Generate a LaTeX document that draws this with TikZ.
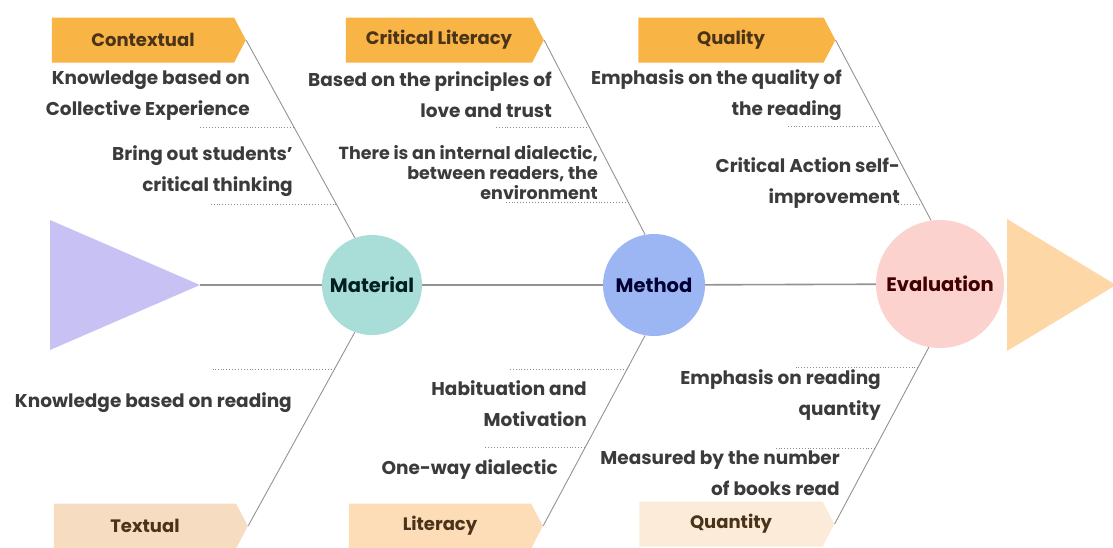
\documentclass[tikz,border=0pt]{standalone}
\usepackage{fontspec}
\setmainfont{Poppins}
\usetikzlibrary{shapes.symbols}
\definecolor{tailpurple}{HTML}{C8C2F4}
\definecolor{headpeach}{HTML}{FDD7A5}
\definecolor{matteal}{HTML}{A9DDD7}
\definecolor{metblue}{HTML}{9CB6F4}
\definecolor{evapink}{HTML}{FCD2CE}
\definecolor{tagorange}{HTML}{F8B445}
\definecolor{tagsand}{HTML}{F6DDC2}
\definecolor{tagapricot}{HTML}{FCDDB8}
\definecolor{tagcream}{HTML}{FCEBD9}
\definecolor{tagtext}{HTML}{4A3318}
\definecolor{notetext}{HTML}{3B3B3B}
\tikzset{
  bone/.style={draw=gray!85, line width=0.9},
  twig/.style={draw=gray!90, dotted, line width=0.9},
  tag/.style={signal, signal to=east, signal pointer angle=125, minimum width=194,
    minimum height=45, inner sep=0, text=tagtext, font=\bfseries\fontsize{18}{20}\selectfont},
  hub/.style={circle, inner sep=0, font=\bfseries\fontsize{19.5}{22}\selectfont},
  note/.style={anchor=east, align=right, inner sep=0, text=notetext,
    font=\bfseries\fontsize{18.5}{31}\selectfont},
}
\begin{document}
\begin{tikzpicture}[x=1pt, y=-1pt]
\useasboundingbox (0,0) rectangle (1113,547);
% tail and head of the fish
\fill[tailpurple] (50,220) -- (200,285) -- (50,350) -- cycle;
\fill[headpeach] (1007,219) -- (1116,285) -- (1007,351) -- cycle;
\coordinate (tail) at (200,285);
\node[hub, fill=matteal, minimum size=100, text=black!75!teal] (mat) at (372,285) {Material};
\node[hub, fill=metblue, minimum size=102, text=black!80!blue] (met) at (654,285) {Method};
\node[hub, fill=evapink, minimum size=128, text=black!75!red] (eva) at (940,284) {Evaluation};
\draw[bone, line width=1.6] (tail) -- (mat) (mat) -- (met) (met) -- (eva);
% category tags
\node[tag, fill=tagorange] (ctx) at (143,40) {Contextual};
\node[tag, fill=tagorange, minimum width=198] (cri) at (439,40) {Critical Literacy};
\node[tag, fill=tagorange, minimum width=197] (qua) at (731,40) {Quality};
\node[tag, fill=tagsand] (txt) at (145,526) {Textual};
\node[tag, fill=tagapricot] (lit) at (440,526) {Literacy};
\node[tag, fill=tagcream, minimum width=195] (qty) at (731,524) {Quantity};
% bones with their twigs
\draw[bone] (ctx.east) -- (mat.110) coordinate[pos=.44] (a1) coordinate[pos=.83] (a2);
\draw[bone] (cri.east) -- (met.100) coordinate[pos=.45] (b1) coordinate[pos=.835] (b2);
\draw[bone] (qua.east) -- (eva.98) coordinate[pos=.48] (c1) coordinate[pos=.91] (c2);
\draw[bone] (txt.east) -- (mat.250) coordinate[pos=.81] (d1);
\draw[bone] (lit.east) -- (met.260) coordinate[pos=.82] (e1) coordinate[pos=.41] (e2);
\draw[bone] (qty.east) -- (eva.260) coordinate[pos=.887] (f1) coordinate[pos=.43] (f2);
\draw[twig] (a1) -- ++(-94,0) (a2) -- ++(-127,0);
\draw[twig] (b1) -- ++(-94,0) (b2) -- ++(-122,0);
\draw[twig] (c1) -- ++(-94,0) (c2) -- ++(-24,0);
\draw[twig] (d1) -- ++(-122,0);
\draw[twig] (e1) -- ++(-118,0) (e2) -- ++(-101,0);
\draw[twig] (f1) -- ++(-122,0) (f2) -- ++(-99,0);
% notes
\node[note] (n1) at (250,96) {Knowledge based on\\Collective Experience};
\node[note] (n2) at (293,171) {Bring out students'\\critical thinking};
\node[note] (n3) at (552,95) {Based on the principles of\\love and trust};
\node[note, font=\bfseries\fontsize{17.5}{20}\selectfont] (n4) at (598,173) {There is an internal dialectic,\\between readers, the\\environment};
\node[note] (n5) at (842,95) {Emphasis on the quality of\\the reading};
\node[note] (n6) at (900,183) {Critical Action self-\\improvement};
\node[note] (n7) at (292,403) {Knowledge based on reading};
\node[note] (n8) at (587,404) {Habituation and\\Motivation};
\node[note] (n9) at (558,470) {One-way dialectic};
\node[note] (n10) at (881,395) {Emphasis on reading\\quantity};
\node[note] (n11) at (840,473) {Measured by the number\\of books read};
\end{tikzpicture}
\end{document}
